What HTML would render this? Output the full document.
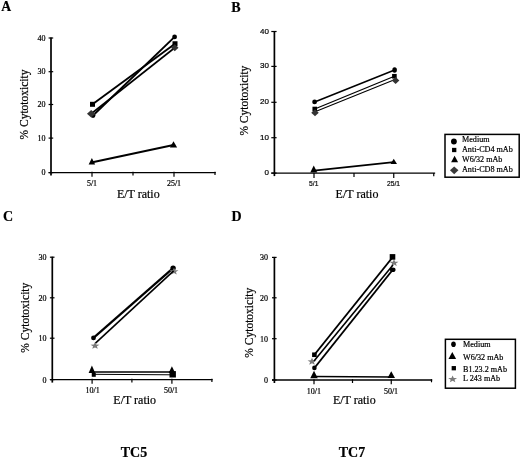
<!DOCTYPE html>
<html><head><meta charset="utf-8"><title>Cytotoxicity</title>
<style>
html,body{margin:0;padding:0;background:#fff;}
body{width:520px;height:458px;overflow:hidden;font-family:"Liberation Serif",serif;}
svg{display:block;filter:blur(0.35px);}
</style></head><body>
<svg width="520" height="458" viewBox="0 0 520 458">
<rect width="520" height="458" fill="#fff"/>
<text x="1.2" y="10.6" font-family="Liberation Serif" font-size="13.7" font-weight="bold" text-anchor="start" fill="#000" stroke="#000" stroke-width="0.2" >A</text>
<line x1="51" y1="37.5" x2="51" y2="175.6" stroke="#000" stroke-width="1.7" stroke-linecap="butt"/>
<line x1="48.6" y1="172.6" x2="215.7" y2="172.6" stroke="#000" stroke-width="1.45" stroke-linecap="butt"/>
<line x1="48.6" y1="172.6" x2="53.2" y2="172.6" stroke="#000" stroke-width="1.2" stroke-linecap="butt"/>
<text x="45.5" y="175.29999999999998" font-family="Liberation Serif" font-size="8" font-weight="normal" text-anchor="end" fill="#000" stroke="#000" stroke-width="0.2" >0</text>
<line x1="48.6" y1="138.1" x2="53.2" y2="138.1" stroke="#000" stroke-width="1.2" stroke-linecap="butt"/>
<text x="45.5" y="140.79999999999998" font-family="Liberation Serif" font-size="8" font-weight="normal" text-anchor="end" fill="#000" stroke="#000" stroke-width="0.2" >10</text>
<line x1="48.6" y1="104.5" x2="53.2" y2="104.5" stroke="#000" stroke-width="1.2" stroke-linecap="butt"/>
<text x="45.5" y="107.2" font-family="Liberation Serif" font-size="8" font-weight="normal" text-anchor="end" fill="#000" stroke="#000" stroke-width="0.2" >20</text>
<line x1="48.6" y1="71.7" x2="53.2" y2="71.7" stroke="#000" stroke-width="1.2" stroke-linecap="butt"/>
<text x="45.5" y="74.4" font-family="Liberation Serif" font-size="8" font-weight="normal" text-anchor="end" fill="#000" stroke="#000" stroke-width="0.2" >30</text>
<line x1="48.6" y1="38" x2="53.2" y2="38" stroke="#000" stroke-width="1.2" stroke-linecap="butt"/>
<text x="45.5" y="40.7" font-family="Liberation Serif" font-size="8" font-weight="normal" text-anchor="end" fill="#000" stroke="#000" stroke-width="0.2" >40</text>
<line x1="92" y1="171.79999999999998" x2="92" y2="176.79999999999998" stroke="#000" stroke-width="1.2" stroke-linecap="butt"/>
<line x1="133" y1="171.79999999999998" x2="133" y2="175.6" stroke="#000" stroke-width="1.2" stroke-linecap="butt"/>
<line x1="174" y1="171.79999999999998" x2="174" y2="176.79999999999998" stroke="#000" stroke-width="1.2" stroke-linecap="butt"/>
<line x1="215" y1="171.79999999999998" x2="215" y2="174.9" stroke="#000" stroke-width="1.2" stroke-linecap="butt"/>
<text x="92" y="185.6" font-family="Liberation Serif" font-size="8" font-weight="normal" text-anchor="middle" fill="#000" stroke="#000" stroke-width="0.2" >5/1</text>
<text x="174" y="185.6" font-family="Liberation Serif" font-size="8" font-weight="normal" text-anchor="middle" fill="#000" stroke="#000" stroke-width="0.2" >25/1</text>
<text transform="translate(28,104.5) rotate(-90)" font-family="Liberation Serif" font-size="11.5" text-anchor="middle" fill="#000" stroke="#000" stroke-width="0.2">% Cytotoxicity</text>
<text x="138.3" y="197.8" font-family="Liberation Serif" font-size="12" font-weight="normal" text-anchor="middle" fill="#000" stroke="#000" stroke-width="0.2" >E/T ratio</text>
<line x1="93" y1="115.5" x2="174.6" y2="36.9" stroke="#000" stroke-width="1.9" stroke-linecap="butt"/>
<ellipse cx="93" cy="115.5" rx="2.4" ry="2.4" fill="#000"/>
<ellipse cx="174.6" cy="36.9" rx="2.4" ry="2.4" fill="#000"/>
<line x1="92.5" y1="104.3" x2="175" y2="43.75" stroke="#000" stroke-width="1.9" stroke-linecap="butt"/>
<rect x="90.0" y="101.8" width="5" height="5" fill="#000"/>
<rect x="172.5" y="41.25" width="5" height="5" fill="#000"/>
<line x1="91.5" y1="113.5" x2="174.75" y2="47.75" stroke="#000" stroke-width="1.6" stroke-linecap="butt"/>
<polygon points="91.2,109.95 95.45,113.7 91.2,117.45 86.95,113.7" fill="#333"/>
<polygon points="174.75,44.25 178.5,47.75 174.75,51.25 171.0,47.75" fill="#333"/>
<line x1="92.5" y1="162.3" x2="173.5" y2="145" stroke="#000" stroke-width="1.9" stroke-linecap="butt"/>
<polygon points="91.9,158.1 88.65,164.4 95.15,164.4" fill="#000"/>
<polygon points="173.5,141.25 169.875,147.5 177.125,147.5" fill="#000"/>
<text x="231.3" y="12" font-family="Liberation Serif" font-size="14" font-weight="bold" text-anchor="start" fill="#000" stroke="#000" stroke-width="0.2" >B</text>
<line x1="274.4" y1="31.0" x2="274.4" y2="176.1" stroke="#000" stroke-width="1.7" stroke-linecap="butt"/>
<line x1="271.29999999999995" y1="173.1" x2="435.15" y2="173.1" stroke="#000" stroke-width="1.45" stroke-linecap="butt"/>
<line x1="271.29999999999995" y1="173.1" x2="276.59999999999997" y2="173.1" stroke="#000" stroke-width="1.2" stroke-linecap="butt"/>
<text x="268.9" y="175.1" font-family="Liberation Sans" font-size="8" font-weight="normal" text-anchor="end" fill="#000" stroke="#000" stroke-width="0.2" >0</text>
<line x1="271.29999999999995" y1="137.7" x2="276.59999999999997" y2="137.7" stroke="#000" stroke-width="1.2" stroke-linecap="butt"/>
<text x="268.9" y="139.7" font-family="Liberation Sans" font-size="8" font-weight="normal" text-anchor="end" fill="#000" stroke="#000" stroke-width="0.2" >10</text>
<line x1="271.29999999999995" y1="102.3" x2="276.59999999999997" y2="102.3" stroke="#000" stroke-width="1.2" stroke-linecap="butt"/>
<text x="268.9" y="104.3" font-family="Liberation Sans" font-size="8" font-weight="normal" text-anchor="end" fill="#000" stroke="#000" stroke-width="0.2" >20</text>
<line x1="271.29999999999995" y1="66.4" x2="276.59999999999997" y2="66.4" stroke="#000" stroke-width="1.2" stroke-linecap="butt"/>
<text x="268.9" y="68.4" font-family="Liberation Sans" font-size="8" font-weight="normal" text-anchor="end" fill="#000" stroke="#000" stroke-width="0.2" >30</text>
<line x1="271.29999999999995" y1="31.5" x2="276.59999999999997" y2="31.5" stroke="#000" stroke-width="1.2" stroke-linecap="butt"/>
<text x="268.9" y="33.5" font-family="Liberation Sans" font-size="8" font-weight="normal" text-anchor="end" fill="#000" stroke="#000" stroke-width="0.2" >40</text>
<line x1="314" y1="173.1" x2="314" y2="178.1" stroke="#000" stroke-width="1.2" stroke-linecap="butt"/>
<line x1="354" y1="173.1" x2="354" y2="176.9" stroke="#000" stroke-width="1.2" stroke-linecap="butt"/>
<line x1="393.75" y1="173.1" x2="393.75" y2="178.1" stroke="#000" stroke-width="1.2" stroke-linecap="butt"/>
<line x1="433.75" y1="173.1" x2="433.75" y2="176.2" stroke="#000" stroke-width="1.2" stroke-linecap="butt"/>
<text transform="translate(313.75,186.2) scale(0.84,1)" font-family="Liberation Sans" font-size="8" text-anchor="middle" fill="#000" stroke="#000" stroke-width="0.2">5/1</text>
<text transform="translate(393.5,186.2) scale(0.84,1)" font-family="Liberation Sans" font-size="8" text-anchor="middle" fill="#000" stroke="#000" stroke-width="0.2">25/1</text>
<text transform="translate(248,100.6) rotate(-90)" font-family="Liberation Serif" font-size="11.5" text-anchor="middle" fill="#000" stroke="#000" stroke-width="0.2">% Cytotoxicity</text>
<text x="357" y="198" font-family="Liberation Serif" font-size="12" font-weight="normal" text-anchor="middle" fill="#000" stroke="#000" stroke-width="0.2" >E/T ratio</text>
<line x1="314.6" y1="101.9" x2="394.6" y2="70" stroke="#000" stroke-width="1.6" stroke-linecap="butt"/>
<ellipse cx="314.6" cy="101.9" rx="2.4" ry="2.4" fill="#000"/>
<ellipse cx="394.6" cy="70" rx="2.3" ry="2.7" fill="#000"/>
<line x1="314.75" y1="109" x2="394.4" y2="76.25" stroke="#000" stroke-width="1.3" stroke-linecap="butt"/>
<rect x="312.45" y="106.7" width="4.6" height="4.6" fill="#000"/>
<rect x="392.09999999999997" y="73.95" width="4.6" height="4.6" fill="#000"/>
<line x1="315" y1="111.75" x2="395" y2="79.4" stroke="#000" stroke-width="1.1" stroke-linecap="butt"/>
<polygon points="315,109.25 318.75,112.75 315,116.25 311.25,112.75" fill="#333"/>
<polygon points="395.6,76.9 399.35,80.4 395.6,83.9 391.85,80.4" fill="#333"/>
<line x1="314" y1="170.6" x2="393.75" y2="162.2" stroke="#000" stroke-width="1.8" stroke-linecap="butt"/>
<polygon points="313.75,165.6 310.25,172.5 317.25,172.5" fill="#000"/>
<polygon points="393.75,158.75 390.5,163.9 397.0,163.9" fill="#000"/>
<rect x="445" y="134.4" width="74.2" height="42.8" fill="#fff" stroke="#000" stroke-width="1.5"/>
<ellipse cx="453.9" cy="141.5" rx="2.9" ry="2.9" fill="#000"/>
<rect x="452.05" y="147.85" width="4.3" height="4.3" fill="#000"/>
<polygon points="454.6,155.8 451.1,162.3 458.1,162.3" fill="#000"/>
<polygon points="454.2,166.45000000000002 458.45,170.3 454.2,174.15 449.95,170.3" fill="#3a3a3a"/>
<text x="462" y="142" font-family="Liberation Serif" font-size="8.15" font-weight="normal" text-anchor="start" fill="#000" stroke="#000" stroke-width="0.2" >Medium</text>
<text x="462" y="151.6" font-family="Liberation Serif" font-size="8.15" font-weight="normal" text-anchor="start" fill="#000" stroke="#000" stroke-width="0.2" >Anti-CD4 mAb</text>
<text x="462" y="161.6" font-family="Liberation Serif" font-size="8.15" font-weight="normal" text-anchor="start" fill="#000" stroke="#000" stroke-width="0.2" >W6/32 mAb</text>
<text x="462" y="171.6" font-family="Liberation Serif" font-size="8.15" font-weight="normal" text-anchor="start" fill="#000" stroke="#000" stroke-width="0.2" >Anti-CD8 mAb</text>
<text x="3" y="220.5" font-family="Liberation Serif" font-size="14" font-weight="bold" text-anchor="start" fill="#000" stroke="#000" stroke-width="0.2" >C</text>
<line x1="52.3" y1="256.7" x2="52.3" y2="382.6" stroke="#000" stroke-width="1.7" stroke-linecap="butt"/>
<line x1="49.9" y1="379.6" x2="212.6" y2="379.6" stroke="#000" stroke-width="1.45" stroke-linecap="butt"/>
<line x1="49.9" y1="379.6" x2="54.5" y2="379.6" stroke="#000" stroke-width="1.2" stroke-linecap="butt"/>
<text x="46.599999999999994" y="382.6" font-family="Liberation Serif" font-size="8" font-weight="normal" text-anchor="end" fill="#000" stroke="#000" stroke-width="0.2" >0</text>
<line x1="49.9" y1="338.2" x2="54.5" y2="338.2" stroke="#000" stroke-width="1.2" stroke-linecap="butt"/>
<text x="46.599999999999994" y="341.2" font-family="Liberation Serif" font-size="8" font-weight="normal" text-anchor="end" fill="#000" stroke="#000" stroke-width="0.2" >10</text>
<line x1="49.9" y1="297.8" x2="54.5" y2="297.8" stroke="#000" stroke-width="1.2" stroke-linecap="butt"/>
<text x="46.599999999999994" y="300.8" font-family="Liberation Serif" font-size="8" font-weight="normal" text-anchor="end" fill="#000" stroke="#000" stroke-width="0.2" >20</text>
<line x1="49.9" y1="257.2" x2="54.5" y2="257.2" stroke="#000" stroke-width="1.2" stroke-linecap="butt"/>
<text x="46.599999999999994" y="260.2" font-family="Liberation Serif" font-size="8" font-weight="normal" text-anchor="end" fill="#000" stroke="#000" stroke-width="0.2" >30</text>
<line x1="92.1" y1="378.8" x2="92.1" y2="383.8" stroke="#000" stroke-width="1.2" stroke-linecap="butt"/>
<line x1="131.9" y1="378.8" x2="131.9" y2="382.6" stroke="#000" stroke-width="1.2" stroke-linecap="butt"/>
<line x1="171.9" y1="378.8" x2="171.9" y2="383.8" stroke="#000" stroke-width="1.2" stroke-linecap="butt"/>
<line x1="211.9" y1="378.8" x2="211.9" y2="381.90000000000003" stroke="#000" stroke-width="1.2" stroke-linecap="butt"/>
<text x="92.7" y="392.6" font-family="Liberation Serif" font-size="8" font-weight="normal" text-anchor="middle" fill="#000" stroke="#000" stroke-width="0.2" >10/1</text>
<text x="171" y="392.6" font-family="Liberation Serif" font-size="8" font-weight="normal" text-anchor="middle" fill="#000" stroke="#000" stroke-width="0.2" >50/1</text>
<text transform="translate(28.5,317.7) rotate(-90)" font-family="Liberation Serif" font-size="11.5" text-anchor="middle" fill="#000" stroke="#000" stroke-width="0.2">% Cytotoxicity</text>
<text x="134.7" y="403.6" font-family="Liberation Serif" font-size="12" font-weight="normal" text-anchor="middle" fill="#000" stroke="#000" stroke-width="0.2" >E/T ratio</text>
<line x1="93.5" y1="337.9" x2="173.1" y2="268.1" stroke="#000" stroke-width="2.2" stroke-linecap="butt"/>
<ellipse cx="93.5" cy="337.9" rx="2.4" ry="2.4" fill="#000"/>
<ellipse cx="173.1" cy="268.1" rx="2.7" ry="2.7" fill="#000"/>
<polygon points="95.00,342.04 96.18,344.51 99.47,344.64 96.90,346.29 97.76,348.84 95.00,347.40 92.24,348.84 93.10,346.29 90.53,344.64 93.82,344.51" fill="#7a7a7a"/>
<polygon points="174.00,267.74 175.18,270.21 178.47,270.34 175.90,271.99 176.76,274.54 174.00,273.10 171.24,274.54 172.10,271.99 169.53,270.34 172.82,270.21" fill="#7a7a7a"/>
<line x1="95.5" y1="343.2" x2="173.6" y2="270.8" stroke="#000" stroke-width="1.6" stroke-linecap="butt"/>
<line x1="93" y1="371.9" x2="172" y2="371.9" stroke="#000" stroke-width="1.5" stroke-linecap="butt"/>
<polygon points="91.9,365.6 88.65,373 95.15,373" fill="#000"/>
<polygon points="171.9,366.2 168.65,373 175.15,373" fill="#000"/>
<line x1="94" y1="374.3" x2="172" y2="374.8" stroke="#000" stroke-width="1.0" stroke-linecap="butt"/>
<rect x="91.75" y="372.8" width="4" height="4" fill="#000"/>
<rect x="169.5" y="371.1" width="6.4" height="6.4" fill="#000"/>
<text x="231.5" y="220.5" font-family="Liberation Serif" font-size="14" font-weight="bold" text-anchor="start" fill="#000" stroke="#000" stroke-width="0.2" >D</text>
<line x1="274.4" y1="256.9" x2="274.4" y2="383" stroke="#000" stroke-width="1.7" stroke-linecap="butt"/>
<line x1="272.0" y1="380" x2="432.2" y2="380" stroke="#000" stroke-width="1.45" stroke-linecap="butt"/>
<line x1="272.0" y1="380" x2="276.59999999999997" y2="380" stroke="#000" stroke-width="1.2" stroke-linecap="butt"/>
<text x="268.0" y="383.0" font-family="Liberation Serif" font-size="8" font-weight="normal" text-anchor="end" fill="#000" stroke="#000" stroke-width="0.2" >0</text>
<line x1="272.0" y1="338.7" x2="276.59999999999997" y2="338.7" stroke="#000" stroke-width="1.2" stroke-linecap="butt"/>
<text x="268.0" y="341.7" font-family="Liberation Serif" font-size="8" font-weight="normal" text-anchor="end" fill="#000" stroke="#000" stroke-width="0.2" >10</text>
<line x1="272.0" y1="297.8" x2="276.59999999999997" y2="297.8" stroke="#000" stroke-width="1.2" stroke-linecap="butt"/>
<text x="268.0" y="300.8" font-family="Liberation Serif" font-size="8" font-weight="normal" text-anchor="end" fill="#000" stroke="#000" stroke-width="0.2" >20</text>
<line x1="272.0" y1="257.4" x2="276.59999999999997" y2="257.4" stroke="#000" stroke-width="1.2" stroke-linecap="butt"/>
<text x="268.0" y="260.4" font-family="Liberation Serif" font-size="8" font-weight="normal" text-anchor="end" fill="#000" stroke="#000" stroke-width="0.2" >30</text>
<line x1="314" y1="379.2" x2="314" y2="384.2" stroke="#000" stroke-width="1.2" stroke-linecap="butt"/>
<line x1="352.5" y1="379.2" x2="352.5" y2="383.0" stroke="#000" stroke-width="1.2" stroke-linecap="butt"/>
<line x1="391.25" y1="379.2" x2="391.25" y2="384.2" stroke="#000" stroke-width="1.2" stroke-linecap="butt"/>
<line x1="431.5" y1="379.2" x2="431.5" y2="382.3" stroke="#000" stroke-width="1.2" stroke-linecap="butt"/>
<text x="313.8" y="393.7" font-family="Liberation Serif" font-size="8" font-weight="normal" text-anchor="middle" fill="#000" stroke="#000" stroke-width="0.2" >10/1</text>
<text x="391" y="393.7" font-family="Liberation Serif" font-size="8" font-weight="normal" text-anchor="middle" fill="#000" stroke="#000" stroke-width="0.2" >50/1</text>
<text transform="translate(253,322.7) rotate(-90)" font-family="Liberation Serif" font-size="11.5" text-anchor="middle" fill="#000" stroke="#000" stroke-width="0.2">% Cytotoxicity</text>
<text x="354.3" y="403.5" font-family="Liberation Serif" font-size="12" font-weight="normal" text-anchor="middle" fill="#000" stroke="#000" stroke-width="0.2" >E/T ratio</text>
<polygon points="312.00,357.84 313.18,360.31 316.47,360.44 313.90,362.09 314.76,364.64 312.00,363.20 309.24,364.64 310.10,362.09 307.53,360.44 310.82,360.31" fill="#7a7a7a"/>
<polygon points="394.00,259.24 395.18,261.71 398.47,261.84 395.90,263.49 396.76,266.04 394.00,264.60 391.24,266.04 392.10,263.49 389.53,261.84 392.82,261.71" fill="#7a7a7a"/>
<rect x="312.09999999999997" y="352.45" width="4.6" height="4.6" fill="#000"/>
<rect x="389.7" y="254.09999999999997" width="5.6" height="5.6" fill="#000"/>
<ellipse cx="314.4" cy="367.9" rx="2.3" ry="2.3" fill="#000"/>
<ellipse cx="392.75" cy="269.75" rx="2.8" ry="2.3" fill="#000"/>
<line x1="314.4" y1="354.75" x2="392" y2="258" stroke="#000" stroke-width="1.9" stroke-linecap="butt"/>
<line x1="314" y1="361" x2="393" y2="265" stroke="#000" stroke-width="1.6" stroke-linecap="butt"/>
<line x1="314.4" y1="368" x2="392.75" y2="269.75" stroke="#000" stroke-width="1.9" stroke-linecap="butt"/>
<line x1="314" y1="376.5" x2="391" y2="376.9" stroke="#000" stroke-width="1.5" stroke-linecap="butt"/>
<polygon points="314,370.8 310.25,378.2 317.75,378.2" fill="#000"/>
<polygon points="391.25,371.25 387.5,378 395.0,378" fill="#000"/>
<rect x="445.4" y="339.3" width="70" height="48.9" fill="#fff" stroke="#000" stroke-width="1.5"/>
<ellipse cx="453.5" cy="344.3" rx="2.3" ry="2.8" fill="#000"/>
<polygon points="452.3,352 448.45,358.9 456.15000000000003,358.9" fill="#000"/>
<rect x="451.65000000000003" y="366.05" width="4.3" height="4.3" fill="#000"/>
<polygon points="452.60,375.44 453.78,377.91 457.07,378.04 454.50,379.69 455.36,382.24 452.60,380.80 449.84,382.24 450.70,379.69 448.13,378.04 451.42,377.91" fill="#7a7a7a"/>
<text x="463" y="346.9" font-family="Liberation Serif" font-size="8.15" font-weight="normal" text-anchor="start" fill="#000" stroke="#000" stroke-width="0.2" >Medium</text>
<text x="463" y="359.7" font-family="Liberation Serif" font-size="8.15" font-weight="normal" text-anchor="start" fill="#000" stroke="#000" stroke-width="0.2" >W6/32 mAb</text>
<text x="463" y="371.8" font-family="Liberation Serif" font-size="8.15" font-weight="normal" text-anchor="start" fill="#000" stroke="#000" stroke-width="0.2" >B1.23.2 mAb</text>
<text x="463" y="381.1" font-family="Liberation Serif" font-size="8.15" font-weight="normal" text-anchor="start" fill="#000" stroke="#000" stroke-width="0.2" >L 243 mAb</text>
<text x="134" y="456.5" font-family="Liberation Serif" font-size="14" font-weight="bold" text-anchor="middle" fill="#000" stroke="#000" stroke-width="0.2" >TC5</text>
<text x="352" y="456.8" font-family="Liberation Serif" font-size="14" font-weight="bold" text-anchor="middle" fill="#000" stroke="#000" stroke-width="0.2" >TC7</text>
</svg>
</body></html>
